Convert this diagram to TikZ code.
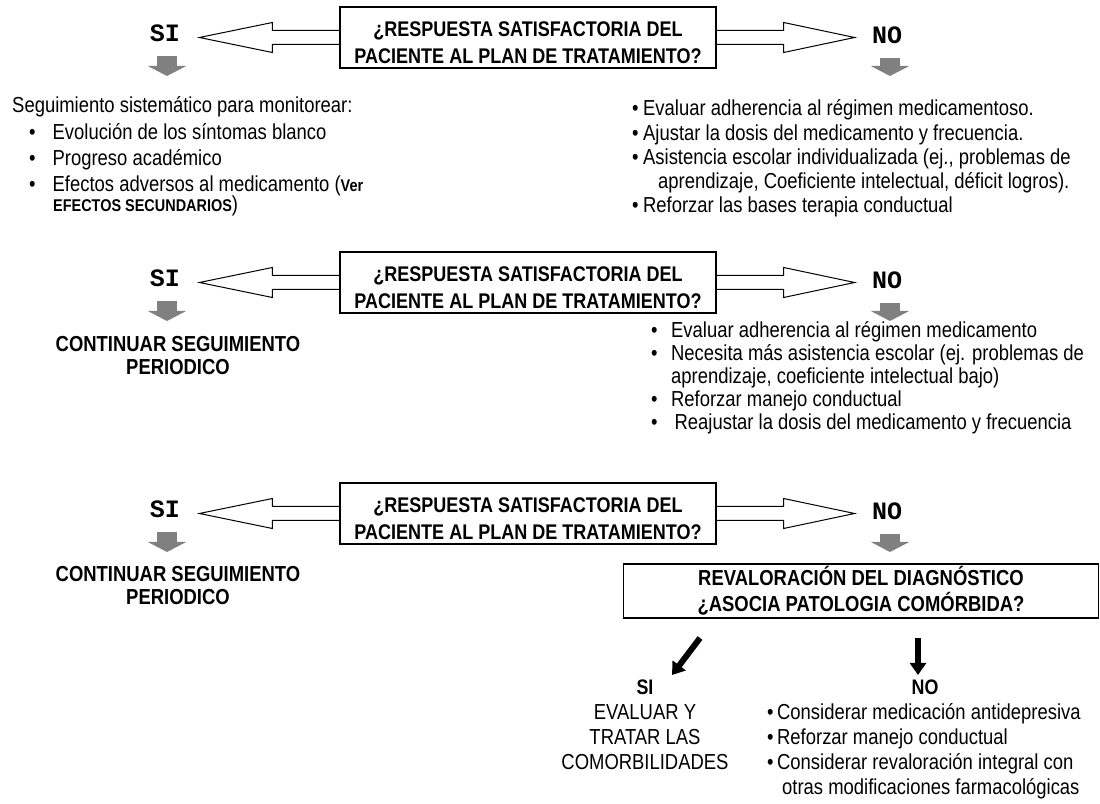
\documentclass[tikz,border=0pt]{standalone}
\usepackage{fontspec}
\setmainfont{Liberation Sans}[FakeStretch=0.85]
\newfontfamily\courier{Liberation Mono}
\usetikzlibrary{arrows.meta}

\definecolor{arrowgray}{RGB}{128,128,128}

\tikzset{
  qbox/.style={draw, line width=1.2pt, minimum width=376pt, minimum height=61pt, inner sep=0pt},
  qtext/.style={align=center, font=\fontsize{21.2}{27}\selectfont\bfseries, inner sep=0pt},
  answer/.style={font=\courier\fontsize{25}{25}\selectfont\bfseries, inner sep=0pt},
  listtext/.style={align=left, inner sep=0pt, anchor=base west},
  boldtext/.style={align=center, font=\fontsize{21.7}{23}\selectfont\bfseries, inner sep=0pt, anchor=base},
  hollow/.style={draw, line width=1pt, line join=miter},
  grayarrow/.style={draw=arrowgray, color=arrowgray, line width=20pt, shorten <=23pt, -{Triangle[width=38pt,length=10pt]}},
  blackarrow/.style={line width=6pt, -{Triangle[width=16pt,length=12pt]}}
}

\newcommand{\smallbold}[1]{{\fontsize{17}{17}\selectfont\bfseries #1}}

\begin{document}
\begin{tikzpicture}[x=1pt,y=1pt]
\useasboundingbox (0,0) rectangle (1100,803);

% Question blocks
\foreach \n/\off in {1/0,2/245,3/476}{
  \node[qbox] (q\n) at (528,{765.5-\off}) {};
  \node[qtext] (qt\n) at ([yshift=-5]q\n.center)
    {¿RESPUESTA SATISFACTORIA DEL\\PACIENTE AL PLAN DE TRATAMIENTO?};
  \node[answer] (si\n) at (165,{770-\off}) {SI};
  \node[answer] (no\n) at (887,{768-\off}) {NO};
  % hollow arrows
  \draw[hollow] ([yshift=7]q\n.west) -- ++(-67,0) -- ++(0,8)
    -- ++(-73,-15) -- ++(73,-15) -- ++(0,8) -- ([yshift=-7]q\n.west);
  \draw[hollow] ([yshift=7]q\n.east) -- ++(67,0) -- ++(0,8)
    -- ++(71,-15) -- ++(-71,-15) -- ++(0,8) -- ([yshift=-7]q\n.east);
  % gray arrows
  \coordinate (ds\n) at (167,{727-\off});
  \coordinate (dn\n) at (890,{727-\off});
  \draw[grayarrow] (si\n.center -| ds\n) -- (ds\n);
  \draw[grayarrow] (no\n.center -| dn\n) -- (dn\n);
}

% First answers
\node[listtext, font=\fontsize{21.7}{26.3}\selectfont] (yes1) at (12,591)
  {Seguimiento sistemático para monitorear:\\
   \hspace*{17pt}\textbullet\hspace{17pt}Evolución de los síntomas blanco\\
   \hspace*{17pt}\textbullet\hspace{17pt}Progreso académico\\
   \hspace*{17pt}\textbullet\hspace{17pt}Efectos adversos al medicamento (\smallbold{Ver}\\[-6pt]
   \hspace*{41pt}\smallbold{EFECTOS SECUNDARIOS})};

\node[listtext, font=\fontsize{21.7}{24.3}\selectfont] (not1) at (632,590)
  {\textbullet\hspace{4.5pt}Evaluar adherencia al régimen medicamentoso.\\
   \textbullet\hspace{4.5pt}Ajustar la dosis del medicamento y frecuencia.\\
   \textbullet\hspace{4.5pt}Asistencia escolar individualizada (ej., problemas de\\
   \hspace*{26pt}aprendizaje, Coeficiente intelectual, déficit logros).\\
   \textbullet\hspace{4.5pt}Reforzar las bases terapia conductual};

% Second answers
\node[boldtext] (yes2) at (178,428) {CONTINUAR SEGUIMIENTO\\PERIODICO};

\node[listtext, font=\fontsize{21.7}{23}\selectfont] (not2) at (651,373)
  {\textbullet\hspace{13.5pt}Evaluar adherencia al régimen medicamento\\
   \textbullet\hspace{13.5pt}Necesita más asistencia escolar (ej. problemas de\\
   \hspace*{20pt}aprendizaje, coeficiente intelectual bajo)\\
   \textbullet\hspace{13.5pt}Reforzar manejo conductual\\
   \textbullet\hspace{17pt}Reajustar la dosis del medicamento y frecuencia};

% Third answers
\node[boldtext] (yes3) at (178,198) {CONTINUAR SEGUIMIENTO\\PERIODICO};

\node[draw, line width=1.5pt, minimum width=475pt, minimum height=54pt, inner sep=0pt,
  align=center, font=\fontsize{21.7}{26}\selectfont\bfseries] (rv) at (861,212)
  {REVALORACIÓN DEL DIAGNÓSTICO\\¿ASOCIA PATOLOGIA COMÓRBIDA?};

% Comorbidity
\node[font=\fontsize{21}{21}\selectfont\bfseries, inner sep=0pt] (sib) at (645,116) {SI};
\node[font=\fontsize{21}{21}\selectfont\bfseries, inner sep=0pt] (nob) at (925,116) {NO};
\coordinate (sia) at (700,165);
\coordinate (sie) at (672,128);
\coordinate (noa) at (918,165);
\coordinate (noe) at (918,128);
\draw[blackarrow] (sia) -- (sie);
\draw[blackarrow] (noa) -- (noe);

\node[align=center, inner sep=0pt, anchor=base, font=\fontsize{21.7}{25}\selectfont] (yesb) at (645,34)
  {EVALUAR Y\\TRATAR LAS\\COMORBILIDADES};

\node[listtext, font=\fontsize{21.7}{24.7}\selectfont] (notb) at (767,9)
  {\textbullet\hspace{3.5pt}Considerar medicación antidepresiva\\
   \textbullet\hspace{3.5pt}Reforzar manejo conductual\\
   \textbullet\hspace{3.5pt}Considerar revaloración integral con\\
   \hspace*{15pt}otras modificaciones farmacológicas};

\end{tikzpicture}
\end{document}
